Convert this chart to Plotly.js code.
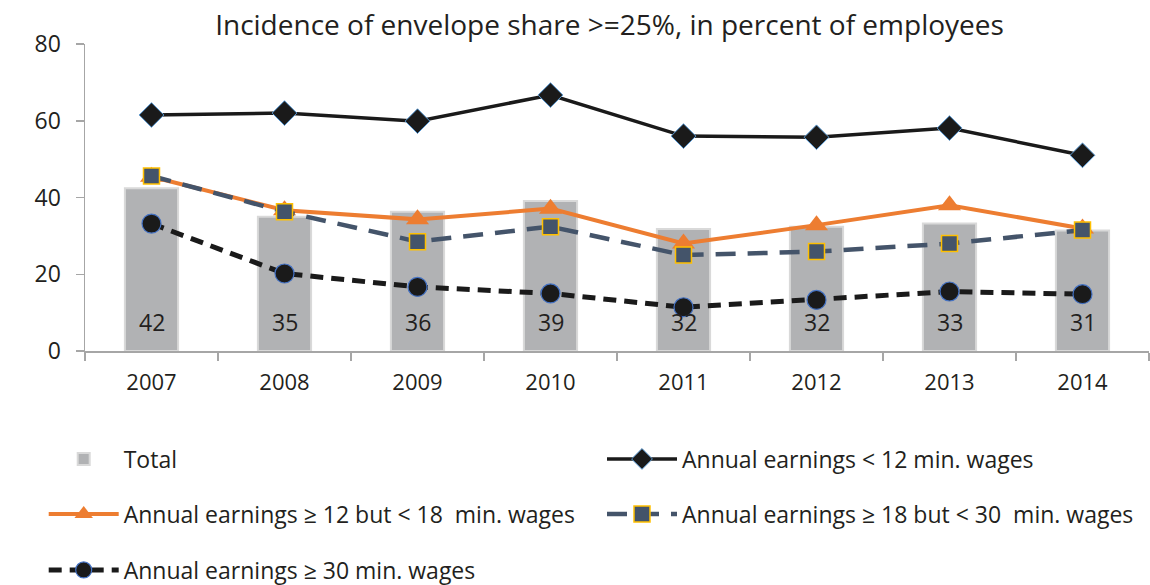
<!DOCTYPE html>
<html>
<head>
<meta charset="utf-8">
<script src="https://cdn.plot.ly/plotly-3.0.1.min.js"></script>
<style>html,body{margin:0;padding:0;background:#fff;}#chart{width:1150px;height:585px;}</style>
</head>
<body>
<div id="chart"></div>
<script>
const years = ['2007','2008','2009','2010','2011','2012','2013','2014'];
const total = [42.4, 35.0, 36.3, 39.1, 31.8, 32.4, 33.2, 31.4];
const totalLabels = ['42','35','36','39','32','32','33','31'];
const below12 = [61.5, 62.0, 59.9, 66.7, 56.0, 55.7, 58.1, 51.0];
const from12to18 = [45.4, 36.7, 34.3, 37.1, 28.0, 32.8, 38.0, 31.9];
const from18to30 = [45.6, 36.3, 28.5, 32.4, 25.0, 25.9, 28.0, 31.5];
const above30 = [33.2, 20.2, 16.7, 15.0, 11.4, 13.3, 15.5, 14.8];

const FONT = 'Open Sans, Noto Sans, sans-serif';
const TXT = '#231f20';

const traces = [
  {type:'bar', x:years, y:total, name:'Total',
   marker:{color:'#b1b2b4', line:{color:'#d9d9d9', width:2}}, legend:'legend'},
  {type:'scatter', mode:'lines+markers', x:years, y:below12, name:'Annual earnings < 12 min. wages',
   line:{color:'#1a1a1a', width:3.5},
   marker:{symbol:'diamond', size:19, color:'#1a1a1a', line:{color:'#5b9bd5', width:1}}, legend:'legend2'},
  {type:'scatter', mode:'lines+markers', x:years, y:from12to18, name:'Annual earnings ≥ 12 but < 18  min. wages',
   line:{color:'#ed7d31', width:4},
   marker:{symbol:'triangle-up', size:20, color:'#ed7d31'}, legend:'legend3'},
  {type:'scatter', mode:'lines+markers', x:years, y:from18to30, name:'Annual earnings ≥ 18 but < 30  min. wages',
   line:{color:'#44546a', width:4.5, dash:'20px,12px'},
   marker:{symbol:'square', size:16, color:'#44546a', line:{color:'#ffc000', width:1.5}}, legend:'legend4'},
  {type:'scatter', mode:'lines+markers', x:years, y:above30, name:'Annual earnings ≥ 30 min. wages',
   line:{color:'#1a1a1a', width:5, dash:'13px,8px'},
   marker:{symbol:'circle', size:19, color:'#1a1a1a', line:{color:'#4472c4', width:1.2}}, legend:'legend5'}
];

const legBase = {orientation:'h', xref:'container', yref:'container', xanchor:'left', yanchor:'middle',
  itemwidth:70, font:{family:FONT, size:23, color:TXT}, bgcolor:'rgba(0,0,0,0)',
  traceorder:'normal', itemclick:false};
const colX = [0.038, 602/1150];
const rowY = [1-459/585, 1-514/585, 1-570/585];

const annotations = totalLabels.map((lab, i) => ({
  x: i, y: 0, xref:'x', yref:'y', text: lab, showarrow:false,
  xanchor:'center', yanchor:'bottom', yshift:11, font:{size:23, family:FONT, color:TXT}
}));

const layout = {
  width:1150, height:585,
  margin:{l:85, r:1, t:44, b:234},
  paper_bgcolor:'#fff', plot_bgcolor:'#fff',
  font:{family:FONT, color:TXT},
  title:{text:'Incidence of envelope share >=25%, in percent of employees', font:{size:28, family:FONT, color:TXT},
    x:0.53, xref:'container', xanchor:'center', y:0.957, yref:'container', yanchor:'middle'},
  bargap:0.6,
  showlegend:true,
  annotations: annotations,
  xaxis:{type:'category', range:[-0.5,7.5], showline:true, linecolor:'#a6a6a6', linewidth:1.5,
    ticks:'outside', ticklen:8, tickcolor:'#a6a6a6', tickwidth:1.5, tickson:'boundaries',
    tickfont:{size:22, family:FONT, color:TXT}, ticklabelstandoff:11, showgrid:false, zeroline:false, fixedrange:true},
  yaxis:{range:[0,80], tickvals:[0,20,40,60,80], showline:true, linecolor:'#a6a6a6', linewidth:1.5,
    ticks:'outside', ticklen:8, tickcolor:'#a6a6a6', tickwidth:1.5,
    tickfont:{size:23, family:FONT, color:TXT}, ticklabelstandoff:10, showgrid:false, zeroline:false, fixedrange:true},
  legend:  Object.assign({}, legBase, {x:colX[0], y:rowY[0]}),
  legend2: Object.assign({}, legBase, {x:colX[1], y:rowY[0]}),
  legend3: Object.assign({}, legBase, {x:colX[0], y:rowY[1]}),
  legend4: Object.assign({}, legBase, {x:colX[1], y:rowY[1]}),
  legend5: Object.assign({}, legBase, {x:colX[0], y:rowY[2]})
};

Plotly.newPlot('chart', traces, layout, {displayModeBar:false, staticPlot:true});
</script>
</body>
</html>
